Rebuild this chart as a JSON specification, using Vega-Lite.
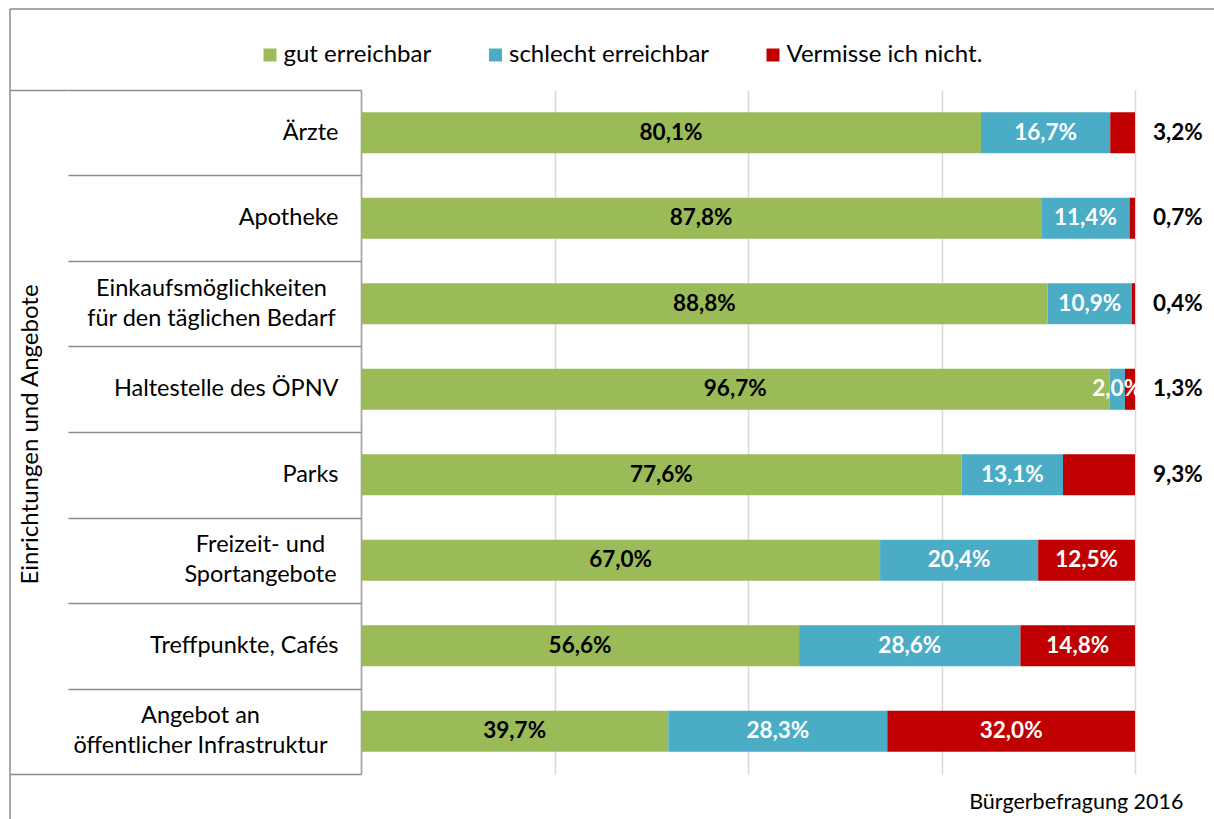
{
  "$schema": "https://vega.github.io/schema/vega-lite/v6.json",
  "autosize": "none",
  "width": 1204,
  "height": 810,
  "padding": {"left": 10, "top": 9, "right": 0, "bottom": 0},
  "background": "white",
  "config": {
    "font": "Lato",
    "view": {"stroke": "#8c8c8c", "strokeWidth": 1.5, "strokeDash": [1204, 2014, 810, 0]},
    "axis": {"labelFont": "Lato", "titleFont": "Lato", "labelColor": "#000", "titleColor": "#000"},
    "legend": {"labelFont": "Lato"}
  },
  "data": {
    "values": [
      {"cat": "Ärzte", "s": "gut erreichbar", "i": 1, "v": 80.1, "label": "80,1%"},
      {"cat": "Ärzte", "s": "schlecht erreichbar", "i": 2, "v": 16.7, "label": "16,7%"},
      {"cat": "Ärzte", "s": "Vermisse ich nicht.", "i": 3, "v": 3.2, "label": "3,2%"},
      {"cat": "Apotheke", "s": "gut erreichbar", "i": 1, "v": 87.8, "label": "87,8%"},
      {"cat": "Apotheke", "s": "schlecht erreichbar", "i": 2, "v": 11.4, "label": "11,4%"},
      {"cat": "Apotheke", "s": "Vermisse ich nicht.", "i": 3, "v": 0.7, "label": "0,7%"},
      {"cat": "Einkaufsmöglichkeiten|für den täglichen Bedarf", "s": "gut erreichbar", "i": 1, "v": 88.8, "label": "88,8%"},
      {"cat": "Einkaufsmöglichkeiten|für den täglichen Bedarf", "s": "schlecht erreichbar", "i": 2, "v": 10.9, "label": "10,9%"},
      {"cat": "Einkaufsmöglichkeiten|für den täglichen Bedarf", "s": "Vermisse ich nicht.", "i": 3, "v": 0.4, "label": "0,4%"},
      {"cat": "Haltestelle des ÖPNV", "s": "gut erreichbar", "i": 1, "v": 96.7, "label": "96,7%"},
      {"cat": "Haltestelle des ÖPNV", "s": "schlecht erreichbar", "i": 2, "v": 2.0, "label": "2,0%"},
      {"cat": "Haltestelle des ÖPNV", "s": "Vermisse ich nicht.", "i": 3, "v": 1.3, "label": "1,3%"},
      {"cat": "Parks", "s": "gut erreichbar", "i": 1, "v": 77.6, "label": "77,6%"},
      {"cat": "Parks", "s": "schlecht erreichbar", "i": 2, "v": 13.1, "label": "13,1%"},
      {"cat": "Parks", "s": "Vermisse ich nicht.", "i": 3, "v": 9.3, "label": "9,3%"},
      {"cat": "Freizeit- und|Sportangebote", "s": "gut erreichbar", "i": 1, "v": 67.0, "label": "67,0%"},
      {"cat": "Freizeit- und|Sportangebote", "s": "schlecht erreichbar", "i": 2, "v": 20.4, "label": "20,4%"},
      {"cat": "Freizeit- und|Sportangebote", "s": "Vermisse ich nicht.", "i": 3, "v": 12.5, "label": "12,5%"},
      {"cat": "Treffpunkte, Cafés", "s": "gut erreichbar", "i": 1, "v": 56.6, "label": "56,6%"},
      {"cat": "Treffpunkte, Cafés", "s": "schlecht erreichbar", "i": 2, "v": 28.6, "label": "28,6%"},
      {"cat": "Treffpunkte, Cafés", "s": "Vermisse ich nicht.", "i": 3, "v": 14.8, "label": "14,8%"},
      {"cat": "Angebot an|öffentlicher Infrastruktur", "s": "gut erreichbar", "i": 1, "v": 39.7, "label": "39,7%"},
      {"cat": "Angebot an|öffentlicher Infrastruktur", "s": "schlecht erreichbar", "i": 2, "v": 28.3, "label": "28,3%"},
      {"cat": "Angebot an|öffentlicher Infrastruktur", "s": "Vermisse ich nicht.", "i": 3, "v": 32.0, "label": "32,0%"}
    ]
  },
  "resolve": {"axis": {"y": "independent"}},
  "layer": [
    {
      "mark": {"type": "bar"},
      "encoding": {
        "y": {
          "field": "cat", "type": "nominal", "sort": null,
          "scale": {"range": [81, 765], "paddingInner": 0.52, "paddingOuter": 0.26},
          "axis": {
            "orient": "left", "offset": -351,
            "title": "Einrichtungen und Angebote",
            "titleFontSize": 24, "titleFontWeight": "normal",
            "titleX": -331, "titleY": 425, "titleAngle": -90, "titleBaseline": "middle", "titleAlign": "center",
            "labelExpr": "split(datum.label, '|')",
            "labelFontSize": 23.5, "labelLineHeight": 30, "labelLimit": 320,
            "labelAlign": {"condition": {"test": "indexof(datum.value, '|') >= 0", "value": "center"}, "value": "right"},
            "labelOffset": {"condition": {"test": "indexof(datum.value, '|') >= 0", "value": -15}, "value": 0},
            "labelPadding": {"condition": [
              {"test": "datum.value == 'Einkaufsmöglichkeiten|für den täglichen Bedarf'", "value": 150},
              {"test": "datum.value == 'Freizeit- und|Sportangebote'", "value": 101},
              {"test": "datum.value == 'Angebot an|öffentlicher Infrastruktur'", "value": 161}
            ], "value": 23},
            "ticks": false, "domain": true, "domainColor": "#a0a0a0", "domainWidth": 1.5
          }
        },
        "x": {
          "field": "v", "type": "quantitative", "stack": "normalize",
          "scale": {"domain": [0, 1], "nice": false, "range": [351, 1125]},
          "axis": {"orient": "top", "offset": -81, "title": "Bürgerbefragung 2016", "titleFontSize": 21.5, "titleFontWeight": "normal", "titleX": 1173, "titleY": 718, "titleAlign": "right", "titleBaseline": "alphabetic", "labels": false, "ticks": true, "tickSize": -684, "tickColor": "#d9d9d9", "tickWidth": 1.5, "domain": false, "grid": false, "values": [0, 0.25, 0.5, 0.75, 1]}
        },
        "order": {"field": "i", "type": "quantitative"},
        "color": {
          "field": "s", "type": "nominal",
          "scale": {"domain": ["gut erreichbar", "schlecht erreichbar", "Vermisse ich nicht."], "range": ["#9BBB59", "#4BACC6", "#C00000"]},
          "legend": {
            "title": null, "orient": "none", "direction": "horizontal",
            "legendX": 248, "legendY": 34,
            "symbolType": "square", "symbolSize": 169, "symbolStrokeWidth": 0,
            "labelFontSize": 24, "labelColor": "#000", "labelOffset": 1.5, "columnPadding": 51.5, "labelLimit": 300
          }
        }
      }
    },
    {
      "mark": {"type": "text", "fontSize": 22.5, "fontWeight": "bold", "font": "Lato", "baseline": "middle", "align": "center"},
      "encoding": {
        "y": {
          "field": "cat", "type": "nominal", "sort": null,
          "axis": {"orient": "left", "offset": -351, "title": null, "labels": false, "domain": false, "ticks": true, "bandPosition": 0, "tickOffset": -22.23, "tickSize": 293, "tickColor": "#8c8c8c", "tickWidth": 1.5}
        },
        "x": {
          "field": "v", "type": "quantitative", "stack": "normalize", "bandPosition": 0.5,
          "axis": {"orient": "top", "offset": -81, "title": "Bürgerbefragung 2016", "titleFontSize": 21.5, "titleFontWeight": "normal", "titleX": 1173, "titleY": 718, "titleAlign": "right", "titleBaseline": "alphabetic", "labels": false, "ticks": true, "tickSize": -684, "tickColor": "#d9d9d9", "tickWidth": 1.5, "domain": false, "grid": false, "values": [0, 0.25, 0.5, 0.75, 1]}
        },
        "order": {"field": "i", "type": "quantitative"},
        "detail": {"field": "s", "type": "nominal"},
        "text": {"condition": {"test": "datum.s != 'Vermisse ich nicht.' || datum.v >= 10", "field": "label"}, "value": ""},
        "color": {"condition": {"test": "datum.s == 'gut erreichbar'", "value": "#000000"}, "value": "#ffffff"}
      }
    },
    {
      "transform": [{"filter": "datum.s == 'Vermisse ich nicht.' && datum.v < 10"}],
      "mark": {"type": "text", "fontSize": 22.5, "fontWeight": "bold", "font": "Lato", "baseline": "middle", "align": "left", "dx": 18, "color": "#000"},
      "encoding": {
        "y": {
          "field": "cat", "type": "nominal", "sort": null,
          "axis": {"orient": "left", "title": null, "labels": false, "domain": false, "offset": 0,
                   "ticks": true, "values": ["Angebot an|öffentlicher Infrastruktur"], "bandPosition": 1, "tickOffset": 22.23, "tickSize": -351, "tickColor": "#8c8c8c", "tickWidth": 1.5}
        },
        "x": {"datum": 1, "type": "quantitative",
          "axis": {"orient": "top", "offset": -81, "title": "Bürgerbefragung 2016", "titleFontSize": 21.5, "titleFontWeight": "normal", "titleX": 1173, "titleY": 718, "titleAlign": "right", "titleBaseline": "alphabetic", "labels": false, "ticks": true, "tickSize": -684, "tickColor": "#d9d9d9", "tickWidth": 1.5, "domain": false, "grid": false, "values": [0, 0.25, 0.5, 0.75, 1]}},
        "text": {"field": "label"}
      }
    },
    {
      "transform": [{"filter": "datum.i == 1"}],
      "mark": {"type": "text", "opacity": 0},
      "encoding": {
        "y": {
          "field": "cat", "type": "nominal", "sort": null,
          "axis": {"orient": "left", "title": null, "labels": false, "domain": false, "offset": 0,
                   "ticks": true, "values": ["Ärzte"], "bandPosition": 0, "tickOffset": -22.23, "tickSize": -58, "tickColor": "#8c8c8c", "tickWidth": 1.5}
        },
        "text": {"value": ""}
      }
    }
  ]
}
